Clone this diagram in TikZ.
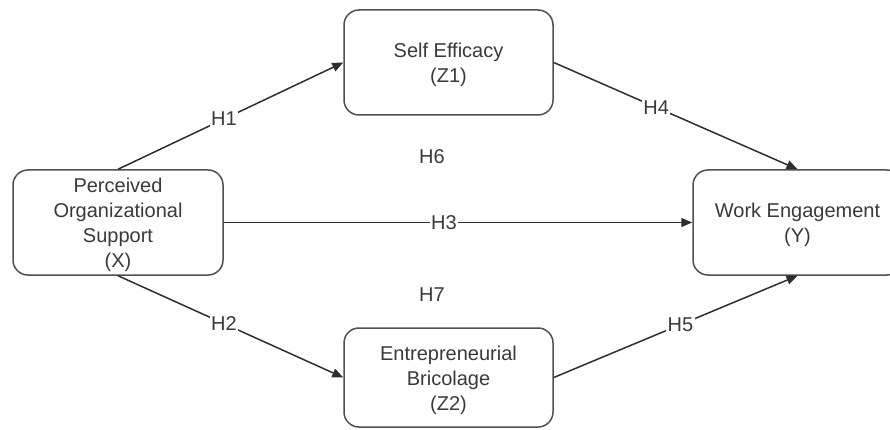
\documentclass[tikz,border=0pt]{standalone}
\usepackage{fontspec}
\setmainfont{Liberation Sans}
\usetikzlibrary{arrows.meta}
\definecolor{linegray}{HTML}{2E2E2E}
\definecolor{textgray}{HTML}{3A3A3A}
\definecolor{boxgray}{HTML}{505050}
\tikzset{
  varbox/.style={draw=boxgray, line width=1.5pt, rounded corners=15pt, fill=white,
    align=center, inner sep=0pt, text=textgray, font=\fontsize{20}{25}\selectfont},
  conn/.style={draw=linegray, line width=1.5pt, -{Triangle[length=11pt,width=9pt]}},
  hlabel/.style={fill=white, inner sep=1.5pt, text=textgray, font=\fontsize{20}{24}\selectfont},
}
\begin{document}
\begin{tikzpicture}[x=1pt,y=-1pt]
\useasboundingbox (0,0) rectangle (890,430);
\clip (0,0) rectangle (890,430);
\node[varbox, minimum width=210pt, minimum height=105pt] (X) at (118,222.5)
  {\rule{0pt}{20pt}Perceived\\Organizational\\Support\\(X)};
\node[varbox, minimum width=209pt, minimum height=105pt] (Z1) at (448.5,62.5)
  {\rule{0pt}{20pt}Self Efficacy\\(Z1)};
\node[varbox, minimum width=209pt, minimum height=99pt] (Z2) at (448.5,377.5)
  {\rule{0pt}{20pt}Entrepreneurial\\Bricolage\\(Z2)};
\node[varbox, minimum width=209pt, minimum height=105pt] (Y) at (797.5,222.5)
  {\rule{0pt}{19pt}Work Engagement\\(Y)};
\draw[conn] (X.north) -- node[hlabel, pos=0.47] (h1) {H1} (Z1.west);
\draw[conn] (Z1.east) -- node[hlabel, pos=0.42] (h4) {H4} (Y.north);
\draw[conn] (X.east) -- node[hlabel, pos=0.47] (h3) {H3} (Y.west);
\draw[conn] (X.south) -- node[hlabel, pos=0.47] (h2) {H2} (Z2.west);
\draw[conn] (Z2.east) -- node[hlabel, pos=0.52] (h5) {H5} (Y.south);
\node[hlabel] (h6) at (432,157) {H6};
\node[hlabel] (h7) at (432,295) {H7};
\end{tikzpicture}
\end{document}
